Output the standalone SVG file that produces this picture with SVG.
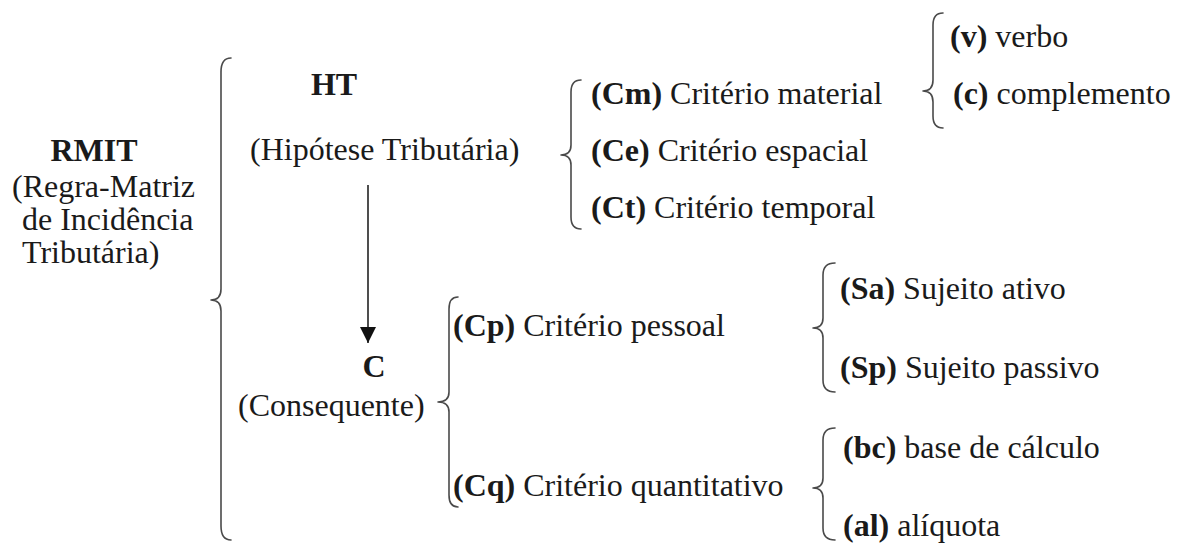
<svg xmlns="http://www.w3.org/2000/svg" width="1187" height="543" viewBox="0 0 1187 543">
<defs>
<style>
text{font-family:"Liberation Serif","Times New Roman",serif;font-size:32px;fill:#1a1a1a}
.b{font-weight:bold}
.m{text-anchor:middle}
.brace{fill:none;stroke:#4a4a4a;stroke-width:1.6;stroke-linecap:round;stroke-linejoin:round}
.conn{fill:none;stroke:#222;stroke-width:1.6}
</style>
<marker id="ah" viewBox="0 0 16 16" refX="16" refY="8" markerWidth="16" markerHeight="16" markerUnits="userSpaceOnUse" orient="auto">
<path d="M0,0 L16,8 L0,16 z" fill="#111"/>
</marker>
</defs>
<rect width="1187" height="543" fill="#fff"/>

<g id="rmit">
<text class="b m" x="94" y="161">RMIT</text>
<text x="12" y="197">(Regra-Matriz</text>
<text x="22" y="230">de Incidência</text>
<text x="22" y="263">Tributária)</text>
</g>

<g id="ht">
<text class="b m" x="334" y="95">HT</text>
<text x="250" y="160">(Hipótese Tributária)</text>
</g>

<g id="c">
<text class="b m" x="374" y="377">C</text>
<text x="238" y="416">(Consequente)</text>
</g>

<g id="cm"><text x="591" y="104"><tspan class="b">(Cm)</tspan> Critério material</text></g>
<g id="ce"><text x="591" y="161"><tspan class="b">(Ce)</tspan> Critério espacial</text></g>
<g id="ct"><text x="591" y="218"><tspan class="b">(Ct)</tspan> Critério temporal</text></g>

<g id="v"><text x="950" y="47"><tspan class="b">(v)</tspan> verbo</text></g>
<g id="cc"><text x="953" y="104"><tspan class="b">(c)</tspan> complemento</text></g>

<g id="cp"><text x="453" y="336"><tspan class="b">(Cp)</tspan> Critério pessoal</text></g>
<g id="cq"><text x="453" y="496"><tspan class="b">(Cq)</tspan> Critério quantitativo</text></g>

<g id="sa"><text x="840" y="299"><tspan class="b">(Sa)</tspan> Sujeito ativo</text></g>
<g id="sp"><text x="840" y="378"><tspan class="b">(Sp)</tspan> Sujeito passivo</text></g>
<g id="bc"><text x="843" y="458"><tspan class="b">(bc)</tspan> base de cálculo</text></g>
<g id="al"><text x="843" y="536"><tspan class="b">(al)</tspan> alíquota</text></g>

<g id="connectors">
<path class="brace" d="M231,58 Q221,58 221,72 L221,289 Q221,300 211,300 Q221,300 221,311 L221,526 Q221,540 231,540"/>
<path class="brace" d="M581,80 Q571,80 571,92 L571,145 Q571,155 561,155 Q571,155 571,165 L571,217 Q571,229 581,229"/>
<path class="brace" d="M943,13 Q933,13 933,25 L933,80 Q933,91 923,91 Q933,91 933,102 L933,116 Q933,128 943,128"/>
<path class="brace" d="M458,297 Q449,297 449,309 L449,392 Q449,402 438,402 Q449,402 449,412 L449,495 Q449,507 458,507"/>
<path class="brace" d="M835,263 Q823,263 823,275 L823,318 Q823,328 813,328 Q823,328 823,338 L823,380 Q823,392 835,392"/>
<path class="brace" d="M835,428 Q823,428 823,440 L823,478 Q823,488 813,488 Q823,488 823,498 L823,528 Q823,540 835,540"/>
<line class="conn" x1="368" y1="185" x2="368" y2="343" marker-end="url(#ah)"/>
</g>
</svg>
